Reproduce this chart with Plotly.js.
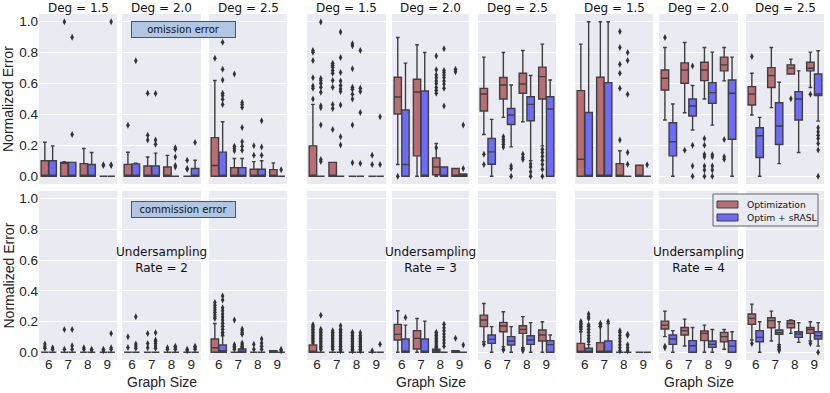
<!DOCTYPE html>
<html>
<head>
<meta charset="utf-8">
<script src="https://cdn.plot.ly/plotly-3.0.1.min.js"></script>
<style>
  html, body { margin: 0; padding: 0; background: #fff; }
  #chart { width: 830px; height: 393px; }
</style>
</head>
<body>
<div id="chart"></div>
<script>
const sizes = [6, 7, 8, 9];
const rates = [2, 3, 4];
const degs = ['1.5', '2.0', '2.5'];
const methods = ['Optimization', 'Optim + sRASL'];
const yTicks = [0, 0.2, 0.4, 0.6, 0.8, 1.0];

// Each box: [lower whisker, q1, median, q3, upper whisker], one per graph size 6..9
// Panels: rate 2 (deg 1.5, 2.0, 2.5), rate 3 (...), rate 4 (...)
const Z = [0, 0, 0, 0, 0];

const omissionOpt = [
  [[0, 0, 0, 0.10, 0.22], [0, 0, 0.09, 0.09, 0.095], [0, 0, 0, 0.082, 0.18], Z],
  [[0, 0, 0, 0.077, 0.155], [0, 0, 0, 0.066, 0.125], [0, 0, 0, 0.06, 0.135], Z],
  [[0, 0, 0.07, 0.25, 0.62], [0, 0, 0, 0.056, 0.115], [0, 0, 0, 0.045, 0.095], [0, 0, 0, 0.043, 0.087]],
  [[0, 0, 0, 0.197, 0.465], [0, 0, 0, 0.09, 0.09], Z, Z],
  [[0.076, 0.403, 0.513, 0.641, 0.898], [0, 0.132, 0.545, 0.628, 0.851], [0, 0.01, 0.06, 0.119, 0.212], [0, 0, 0, 0.05, 0.05]],
  [[0.27, 0.422, 0.532, 0.569, 0.771], [0.381, 0.5, 0.591, 0.639, 0.801], [0.353, 0.537, 0.597, 0.667, 0.814], [0.197, 0.5, 0.645, 0.706, 0.855]],
  [[0, 0, 0.11, 0.554, 0.855], [0, 0, 0, 0.641, 1.0], [0, 0, 0, 0.082, 0.165], [0, 0, 0, 0.071, 0.071]],
  [[0.364, 0.558, 0.634, 0.688, 0.833], [0.411, 0.602, 0.688, 0.734, 0.866], [0.5, 0.619, 0.688, 0.738, 0.833], [0.617, 0.682, 0.721, 0.771, 0.833]],
  [[0.396, 0.461, 0.532, 0.58, 0.667], [0.444, 0.574, 0.652, 0.703, 0.833], [0.662, 0.662, 0.7, 0.721, 0.758], [0.574, 0.682, 0.699, 0.738, 0.803]]
];

const omissionSrasl = [
  [[0, 0, 0, 0.10, 0.197], [0, 0, 0, 0.09, 0.09], [0, 0, 0, 0.076, 0.154], Z],
  [[0, 0, 0, 0.08, 0.085], [0, 0, 0, 0.066, 0.15], Z, [0, 0, 0, 0.05, 0.104]],
  [[0, 0, 0, 0.156, 0.353], [0, 0, 0, 0.056, 0.115], [0, 0, 0, 0.045, 0.1], Z],
  [Z, Z, Z, Z],
  [[0, 0, 0.076, 0.429, 0.732], [0, 0, 0, 0.552, 0.801], [0, 0, 0, 0.06, 0.06], [0, 0, 0, 0.015, 0.015]],
  [[0, 0.078, 0.158, 0.245, 0.368], [0.19, 0.335, 0.396, 0.439, 0.591], [0.1, 0.359, 0.465, 0.515, 0.652], [0, 0, 0.435, 0.515, 0.623]],
  [[0, 0, 0, 0.413, 1.0], [0, 0, 0, 0.606, 1.0], Z, Z],
  [[0, 0.132, 0.223, 0.346, 0.468], [0.299, 0.39, 0.455, 0.5, 0.587], [0.331, 0.472, 0.541, 0.606, 0.803], [0, 0.24, 0.537, 0.623, 0.771]],
  [[0, 0.121, 0.262, 0.314, 0.381], [0.082, 0.206, 0.325, 0.476, 0.608], [0.154, 0.364, 0.5, 0.548, 0.682], [0.357, 0.522, 0.532, 0.662, 0.812]]
];

// Outliers, per panel, per graph size
const omissionOptOut = [
  [[], [1.0], [], [0.075, 0.07]],
  [[0.33], [0.537, 0.266, 0.234], [], [0.104, 0.05, 0.045]],
  [[0.764], [0.662, 0.195, 0.18, 0.165], [0.197, 0.136], []],
  [[0.814, 0.803, 0.749, 0.638, 0.584, 0.569, 0.5], [0.732, 0.719, 0.706, 0.684, 0.667, 0.619, 0.576, 0.465, 0.439, 0.303], [0.857, 0.844, 0.695, 0.576, 0.563, 0.53, 0.5, 0.331, 0.087], [0.136, 0.076]],
  [[0], [], [0.779, 0.69, 0.655, 0.638, 0.617, 0.6, 0.574, 0.556, 0.537, 0.184], [0.693, 0.677]],
  [[0.143, 0.076], [0.255, 0.238, 0.223, 0.208, 0.19], [0.143, 0.121, 0.108], [0.175, 0.154, 0.13, 0.104, 0.076, 0.045, 0]],
  [[], [], [0.937, 0.833, 0.725, 0.667, 0.569, 0.234], []],
  [[0.898], [0.169], [0.245, 0.201, 0.141, 0.126, 0.067, 0.04, 0], [0.238, 0.126, 0.11]],
  [[0.775], [], [0.502], [0.53]]
];

const omissionSraslOut = [
  [[], [0.9, 0.27], [], [1.0, 0.075, 0.07]],
  [[0.747], [0.535, 0.234, 0.208], [0.185, 0.175, 0.125, 0.07, 0.06], [0.219]],
  [[0.868, 0.693, 0.623, 0.537, 0.522, 0.498, 0.465], [0.478, 0.465, 0.446, 0.316, 0.223, 0.195, 0.169], [0.36, 0.19, 0.136], [0.043]],
  [[0.998, 0.632, 0.619, 0.602, 0.576, 0.543, 0.457, 0.444, 0.331, 0.108, 0.095], [0.933, 0.768, 0.671, 0.617, 0.587, 0.565, 0.548, 0.461, 0.255, 0.203], [0.814, 0.569, 0.548, 0.413, 0.082], [0.385, 0.076]],
  [[], [], [0.825, 0.684, 0.671, 0.656, 0.639, 0.617, 0.597, 0.569, 0.455], [0.331, 0.05]],
  [[], [0.067, 0.05, 0], [0.08, 0.06, 0.03, 0], []],
  [[], [], [0.801, 0.749, 0.53, 0.154, 0.078], [0.075]],
  [[], [0.714, 0.201, 0.067, 0], [0.14, 0.126, 0.067, 0.04, 0], []],
  [[], [], [], [0.314, 0.288, 0.266, 0.245, 0.212, 0.17, 0]]
];

const commissionOpt = [
  [Z, Z, Z, Z],
  [Z, Z, Z, Z],
  [[0, 0, 0.03, 0.087, 0.188], Z, Z, [0, 0, 0, 0.011, 0.011]],
  [[0, 0, 0, 0.048, 0.06], Z, Z, Z],
  [[0, 0.08, 0.117, 0.182, 0.271], [0, 0.022, 0.091, 0.141, 0.22], [0, 0, 0.01, 0.02, 0.03], [0, 0, 0, 0.01, 0.01]],
  [[0.069, 0.167, 0.21, 0.242, 0.318], [0.037, 0.134, 0.171, 0.195, 0.264], [0.03, 0.123, 0.149, 0.173, 0.232], [0, 0.074, 0.113, 0.145, 0.199]],
  [[0, 0, 0, 0.058, 0.134], [0, 0, 0, 0.063, 0.167], Z, Z],
  [[0.102, 0.152, 0.177, 0.203, 0.268], [0.041, 0.113, 0.141, 0.162, 0.216], [0, 0.076, 0.123, 0.139, 0.177], [0.02, 0.069, 0.102, 0.13, 0.149]],
  [[0.08, 0.182, 0.221, 0.249, 0.314], [0.074, 0.16, 0.206, 0.225, 0.268], [0.123, 0.16, 0.188, 0.206, 0.21], [0.074, 0.123, 0.149, 0.162, 0.199]]
];

const commissionSrasl = [
  [Z, Z, Z, Z],
  [Z, Z, Z, Z],
  [[0, 0, 0.01, 0.048, 0.108], [0, 0, 0, 0.022, 0.03], Z, Z],
  [Z, Z, Z, Z],
  [[0, 0, 0, 0.087, 0.177], [0, 0, 0, 0.087, 0.203], Z, Z],
  [[0, 0.058, 0.084, 0.113, 0.167], [0, 0.048, 0.074, 0.102, 0.167], [0, 0.052, 0.08, 0.108, 0.193], [0, 0, 0.05, 0.076, 0.113]],
  [[0, 0, 0, 0.026, 0.05], [0, 0, 0, 0.074, 0.188], Z, Z],
  [[0, 0.052, 0.087, 0.113, 0.141], [0, 0, 0.043, 0.076, 0.162], [0, 0.032, 0.052, 0.074, 0.149], [0, 0, 0.04, 0.076, 0.134]],
  [[0, 0.069, 0.097, 0.141, 0.199], [0.05, 0.117, 0.128, 0.145, 0.199], [0.065, 0.097, 0.119, 0.134, 0.193], [0.04, 0.087, 0.108, 0.134, 0.193]]
];

const commissionOptOut = [
  [[0.054, 0.037, 0.026], [0.149, 0.02], [0.03, 0.02], [0.02, 0.01]],
  [[0.102, 0.032], [0.123, 0.058, 0.03], [0.03, 0.02], [0.02, 0.01]],
  [[0.325, 0.307, 0.29, 0.275, 0.26, 0.245, 0.23, 0.22], [0.21, 0.05, 0.04, 0.03, 0.02], [0.052, 0.02], []],
  [[0.18, 0.17, 0.16, 0.15, 0.14, 0.13, 0.12, 0.11, 0.1, 0.09, 0.08, 0.07], [0.14, 0.13, 0.12, 0.11, 0.1, 0.09, 0.08, 0.07, 0.06, 0.05, 0.04, 0.03, 0.02], [0.13, 0.12, 0.11, 0.1, 0.09, 0.08, 0.07, 0.06, 0.05, 0.04, 0.03, 0.02, 0.01], [0.01]],
  [[], [], [0.13, 0.12, 0.11, 0.1, 0.09, 0.08, 0.07, 0.06, 0.05, 0.04], [0.091]],
  [[0.052], [0.02, 0.015], [0.02, 0.01], []],
  [[0.2, 0.19, 0.18, 0.17, 0.16, 0.15], [0.19, 0.18, 0.17], [0.141, 0.13, 0.11, 0.09, 0.07, 0.05, 0.03, 0.01], []],
  [[0.04, 0.03], [], [], []],
  [[0.058], [], [], [0.058]]
];

const commissionSraslOut = [
  [[0.03, 0.02], [0.149, 0.043, 0.02], [0.02, 0.015], [0.123, 0.03, 0.02]],
  [[0.232, 0.054, 0.041, 0.026], [0.128, 0.08, 0.07, 0.058, 0.041, 0.026], [0.04, 0.03, 0.02], [0.04, 0.03, 0.02]],
  [[0.366, 0.34, 0.29, 0.27, 0.25, 0.23, 0.21, 0.19, 0.17, 0.15, 0.13, 0.12], [0.152, 0.141, 0.128, 0.117, 0.06, 0.05, 0.04], [0.087, 0.06, 0.04, 0.02], [0.02, 0.01]],
  [[0.242, 0.15, 0.14, 0.13, 0.12, 0.11, 0.1, 0.09, 0.08, 0.07, 0.06, 0.05, 0.04, 0.03, 0.02], [0.173, 0.15, 0.14, 0.13, 0.12, 0.11, 0.1, 0.09, 0.08, 0.07, 0.06, 0.05, 0.04, 0.03, 0.02, 0.01], [0.128, 0.11, 0.1, 0.09, 0.08, 0.07, 0.06, 0.05, 0.04, 0.03, 0.02, 0.01], [0.052]],
  [[0.227], [], [0.182, 0.16, 0.14, 0.12, 0.1, 0.08, 0.06, 0.04], [0.048]],
  [[], [], [], []],
  [[0.249, 0.23, 0.22, 0.18, 0.17, 0.15, 0.13, 0.11, 0.09, 0.07], [0.2], [0.117, 0.11, 0.05, 0.03, 0.01], []],
  [[], [], [], []],
  [[], [0.04, 0.03, 0.02, 0.01], [], [0]]
];

// Figure geometry (pixels)
const W = 830, H = 393;
const panelX = [[39, 117], [122, 201], [209, 287], [307, 386], [392, 469], [478, 556], [575, 653], [659, 738], [746, 824]];
const rowY = [[14, 184], [191, 360]];

const colors = ['#b86e72', '#6c6cf9'];
const edgeColor = '#3f3f3f';
const tickFont = {family: 'Liberation Sans, Arial, sans-serif', size: 13.5, color: '#222'};
const textFont = {family: 'DejaVu Sans, Verdana, sans-serif', size: 12, color: '#111'};
const smallFont = {family: 'DejaVu Sans, Verdana, sans-serif', size: 10, color: '#111'};
const legendFont = {family: 'DejaVu Sans, Verdana, sans-serif', size: 9.2, color: '#111'};

const rows = [
  {opt: omissionOpt, srasl: omissionSrasl, optOut: omissionOptOut, sraslOut: omissionSraslOut},
  {opt: commissionOpt, srasl: commissionSrasl, optOut: commissionOptOut, sraslOut: commissionSraslOut}
];

function boxTrace(stats, suffix, offset, color, name) {
  return {
    type: 'box',
    name: name,
    showlegend: false,
    xaxis: 'x' + suffix,
    yaxis: 'y' + suffix,
    x: sizes.map(s => s + offset),
    lowerfence: stats.map(b => b[0]),
    q1: stats.map(b => b[1]),
    median: stats.map(b => b[2]),
    q3: stats.map(b => b[3]),
    upperfence: stats.map(b => b[4]),
    width: 0.38,
    whiskerwidth: 0.5,
    fillcolor: color,
    line: {color: edgeColor, width: 1.4},
    boxpoints: false,
    hoverinfo: 'skip'
  };
}

function outlierTrace(lists, suffix, offset) {
  const xs = [], ys = [];
  lists.forEach((vals, i) => {
    vals.forEach(v => { xs.push(sizes[i] + offset); ys.push(v); });
  });
  return {
    type: 'scatter',
    mode: 'markers',
    x: xs,
    y: ys,
    xaxis: 'x' + suffix,
    yaxis: 'y' + suffix,
    showlegend: false,
    hoverinfo: 'skip',
    cliponaxis: false,
    marker: {symbol: 'diamond-tall', size: 5, color: '#333', line: {width: 0}}
  };
}

const data = [];
const layout = {
  width: W,
  height: H,
  margin: {l: 0, r: 0, t: 0, b: 0},
  paper_bgcolor: '#ffffff',
  plot_bgcolor: '#eaeaf2',
  showlegend: false,
  annotations: [],
  shapes: []
};

rows.forEach((row, r) => {
  for (let p = 0; p < 9; p++) {
    const n = r * 9 + p + 1;
    const suffix = n === 1 ? '' : String(n);

    data.push(boxTrace(row.opt[p], suffix, -0.2, colors[0], methods[0]));
    data.push(boxTrace(row.srasl[p], suffix, 0.2, colors[1], methods[1]));
    data.push(outlierTrace(row.optOut[p], suffix, -0.2));
    data.push(outlierTrace(row.sraslOut[p], suffix, 0.2));

    layout['xaxis' + suffix] = {
      domain: [panelX[p][0] / W, panelX[p][1] / W],
      anchor: 'y' + suffix,
      range: [5.5, 9.5],
      tickvals: sizes,
      showticklabels: r === 1,
      tickfont: tickFont,
      ticklabelstandoff: -6,
      ticks: '',
      showgrid: false,
      zeroline: false,
      showline: false,
      fixedrange: true
    };
    layout['yaxis' + suffix] = {
      domain: [1 - rowY[r][1] / H, 1 - rowY[r][0] / H],
      anchor: 'x' + suffix,
      range: [-0.05, 1.05],
      tickvals: yTicks,
      tickformat: '.1f',
      showticklabels: p === 0,
      tickfont: tickFont,
      ticks: '',
      gridcolor: '#ffffff',
      gridwidth: 1,
      zeroline: false,
      showline: false,
      fixedrange: true
    };

    // Deg titles above the top row
    if (r === 0) {
      layout.annotations.push({
        text: 'Deg = ' + degs[p % 3],
        xref: 'x' + suffix + ' domain', x: 0.5,
        yref: 'paper', y: 1 - 8.5 / H,
        xanchor: 'center', yanchor: 'middle',
        showarrow: false,
        font: textFont
      });
    }
  }
});

// Undersampling labels and Graph Size titles, one per group
rates.forEach((rate, g) => {
  const mid = panelX[g * 3 + 1];
  const cx = (mid[0] + mid[1]) / 2 / W;
  layout.annotations.push({
    text: 'Undersampling<br>Rate = ' + rate,
    xref: 'paper', x: cx, yref: 'paper', y: 1 - 259.5 / H,
    xanchor: 'center', yanchor: 'middle', showarrow: false,
    font: textFont
  });
  layout.annotations.push({
    text: 'Graph Size',
    xref: 'paper', x: cx, yref: 'paper', y: 1 - 382 / H,
    xanchor: 'center', yanchor: 'middle', showarrow: false,
    font: {family: 'Liberation Sans, Arial, sans-serif', size: 14, color: '#222'}
  });
});

// Y axis titles
rowY.forEach(ry => {
  layout.annotations.push({
    text: 'Normalized Error',
    xref: 'paper', x: 8 / W, yref: 'paper', y: 1 - (ry[0] + ry[1]) / 2 / H,
    xanchor: 'center', yanchor: 'middle', textangle: -90, showarrow: false,
    font: {family: 'Liberation Sans, Arial, sans-serif', size: 14, color: '#222'}
  });
});

// Error type boxes
[['omission error', 29.7], ['commission error', 209]].forEach(([label, py]) => {
  layout.annotations.push({
    text: label,
    xref: 'paper', x: 183 / W, yref: 'paper', y: 1 - py / H,
    xanchor: 'center', yanchor: 'middle', showarrow: false,
    width: 100, height: 12,
    bgcolor: '#b0c6e2', bordercolor: '#555', borderwidth: 1, borderpad: 1.5,
    font: smallFont
  });
});

// Legend box (drawn by hand to keep seaborn's compact spacing)
layout.shapes.push({
  type: 'rect', xref: 'paper', yref: 'paper',
  x0: 713 / W, x1: 818 / W, y0: 1 - 226 / H, y1: 1 - 194 / H,
  fillcolor: '#eaeaf2', line: {color: '#666', width: 1}
});
methods.forEach((name, i) => {
  const top = 201 + i * 13;
  layout.shapes.push({
    type: 'rect', xref: 'paper', yref: 'paper',
    x0: 717 / W, x1: 738 / W, y0: 1 - (top + 7) / H, y1: 1 - top / H,
    fillcolor: colors[i], line: {color: edgeColor, width: 1}
  });
  layout.annotations.push({
    text: name,
    xref: 'paper', x: 745 / W, yref: 'paper', y: 1 - (top + 3.5) / H,
    xanchor: 'left', yanchor: 'middle', showarrow: false,
    font: legendFont
  });
});

Plotly.newPlot('chart', data, layout, {displayModeBar: false, staticPlot: true});
</script>
</body>
</html>
